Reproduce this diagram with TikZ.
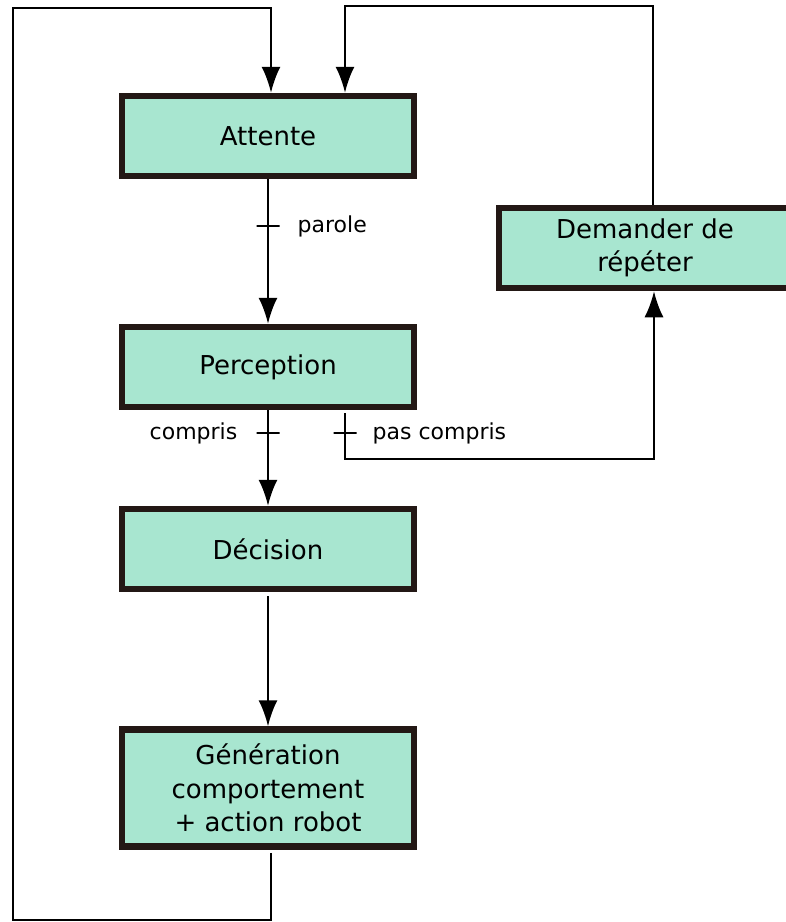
\documentclass[tikz,border=0pt]{standalone}
\usepackage{fontspec}
\setmainfont{DejaVu Sans}
\usetikzlibrary{arrows.meta,positioning}
\definecolor{boxfill}{HTML}{A8E6D0}
\definecolor{boxborder}{HTML}{231815}

\begin{document}
\begin{tikzpicture}[
    x=1pt, y=-1pt,
    etat/.style={
        draw=boxborder, line width=6.5pt, fill=boxfill, rectangle,
        minimum width=292pt, minimum height=80pt, inner sep=0pt,
        align=center, font=\fontsize{26}{33.5}\selectfont
    },
    lien/.style={draw, line width=2.2pt},
    fleche/.style={lien, -{Latex[length=26pt,width=19pt]}},
    barre/.style={draw, line width=2.2pt, rectangle, minimum width=23pt,
                  minimum height=0pt, inner sep=0pt, outer sep=0pt},
    garde/.style={font=\fontsize{22}{26}\selectfont, inner sep=0pt}
]
\useasboundingbox (0,0) rectangle (786,922);

% ===== etats =====
\node[etat] (att) at (268,136) {Attente};
\node[etat] (per) at (268,367) {Perception};
\node[etat] (dec) at (268,549) {Décision};
\node[etat, minimum height=117pt] (gen) at (268,788) {Génération\\comportement\\+ action robot};
\node[etat] (dem) at (645,248) {Demander de\\répéter};

% ===== transitions =====
\draw[fleche] (att) -- node[barre, pos=0.326] (t1) {} (per);
\node[garde, right=18pt of t1] {parole};

\draw[fleche] (per) -- node[barre, pos=0.24] (t2) {} (dec);
\node[garde, left=19pt of t2] {compris};

\coordinate (pc) at (345,459);
\draw[fleche] ([yshift=-3pt]per.south -| pc) -- (pc) -| ([xshift=9pt]dem.south);
\node[barre] (t3) at (345,433) {};
\node[garde, right=16pt of t3] {pas compris};

\draw[fleche] ([yshift=-4pt]dec.south) -- (gen);

% ===== boucles de retour =====
\coordinate (bas) at (13,920);
\coordinate (haut) at (13,8);
\draw[fleche] ([xshift=3pt,yshift=-3pt]gen.south) |- (bas) -- (haut) -| ([xshift=3pt]att.north);

\coordinate (retour) at (345,6);
\draw[fleche] ([xshift=8pt]dem.north) |- (retour) -- (retour |- att.north);

\end{tikzpicture}
\end{document}
